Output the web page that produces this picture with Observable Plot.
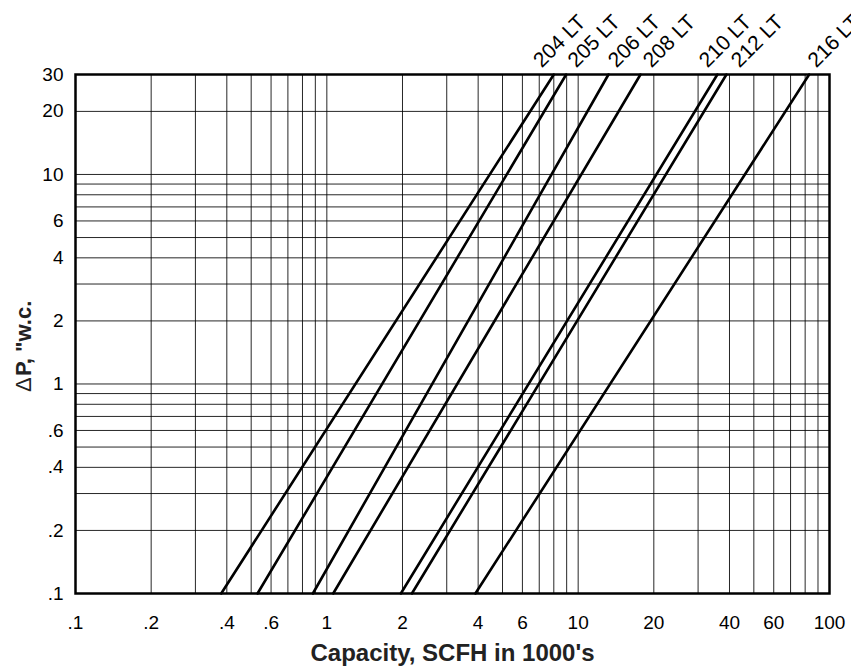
<!DOCTYPE html>
<html>
<head>
<meta charset="utf-8">
<script src="https://cdn.jsdelivr.net/npm/d3@7"></script>
<script src="https://cdn.jsdelivr.net/npm/@observablehq/plot@0.6"></script>
<style>
  html, body { margin: 0; padding: 0; background: #fff; }
</style>
</head>
<body>
<div id="chart"></div>
<script>
// Valve models
const series = ["204 LT", "205 LT", "206 LT", "208 LT", "210 LT", "212 LT", "216 LT"];
// Capacity (1000's SCFH) read at the bottom of the chart (ΔP = 0.1 "w.c.)
const capacityAtLowDP = [0.38, 0.53, 0.88, 1.06, 1.97, 2.18, 3.9];
// Capacity (1000's SCFH) read at the top of the chart (ΔP = 30 "w.c.)
const capacityAtHighDP = [8.0, 8.96, 13.2, 17.7, 35.8, 38.9, 83];
const lowDP = 0.1;
const highDP = 30;

// Axis ticks and grid
const xTicks = [0.1, 0.2, 0.4, 0.6, 1, 2, 4, 6, 10, 20, 40, 60, 100];
const yTicks = [0.1, 0.2, 0.4, 0.6, 1, 2, 4, 6, 10, 20, 30];
const xGrid = [0.2, 0.3, 0.4, 0.5, 0.6, 0.7, 0.8, 0.9, 1, 2, 3, 4, 5, 6, 7, 8, 9, 10, 20, 30, 40, 50, 60, 70, 80, 90];
const yGrid = [0.2, 0.3, 0.4, 0.5, 0.6, 0.7, 0.8, 0.9, 1, 2, 3, 4, 5, 6, 7, 8, 9, 10, 20];

// Label placement offsets (px) relative to each line's top end
const labelDx = [-12, 10, 8, 11, -10, 13, 7];

const rows = series.flatMap((s, i) => [
  {series: s, capacity: capacityAtLowDP[i], dp: lowDP},
  {series: s, capacity: capacityAtHighDP[i], dp: highDP}
]);

const fmt = d => String(d).replace(/^0\./, ".");

const labelMarks = series.map((s, i) =>
  Plot.text([{label: s, capacity: capacityAtHighDP[i], dp: highDP}], {
    x: "capacity", y: "dp", text: "label",
    dx: labelDx[i], dy: -6, rotate: -45,
    textAnchor: "start", lineAnchor: "bottom",
    fontSize: 21, fill: "#000"
  })
);

const chart = Plot.plot({
  width: 851,
  height: 670,
  marginLeft: 75,
  marginRight: 22,
  marginTop: 74,
  marginBottom: 77,
  style: {fontFamily: "'Liberation Sans', Arial, Helvetica, sans-serif", background: "#fff", color: "#000"},
  x: {type: "log", domain: [0.1, 100], axis: null},
  y: {type: "log", domain: [0.1, 30], axis: null},
  marks: [
    Plot.ruleX(xGrid, {stroke: "#000", strokeWidth: 1, strokeOpacity: 0.85}),
    Plot.ruleY(yGrid, {stroke: "#000", strokeWidth: 1, strokeOpacity: 0.85}),
    Plot.text(xTicks, {
      x: d => d, frameAnchor: "bottom", dy: 22, lineAnchor: "top",
      text: fmt, fontSize: 19, fill: "#000"
    }),
    Plot.text(yTicks, {
      y: d => d, frameAnchor: "left", dx: -12, textAnchor: "end", lineAnchor: "middle",
      text: fmt, fontSize: 19, fill: "#000"
    }),
    Plot.line(rows, {x: "capacity", y: "dp", z: "series", stroke: "#000", strokeWidth: 2.6}),
    Plot.frame({stroke: "#000", strokeWidth: 2.5}),
    ...labelMarks,
    Plot.text(["Capacity, SCFH in 1000's"], {
      frameAnchor: "bottom", dy: 60, lineAnchor: "middle",
      fontSize: 24, fontWeight: "bold", fill: "#222"
    }),
    Plot.text(["\u0394"], {
      frameAnchor: "left", dx: -52, dy: 58, rotate: -90,
      textAnchor: "start", lineAnchor: "middle",
      fontSize: 22, fill: "#222"
    }),
    Plot.text(["P, \"w.c."], {
      frameAnchor: "left", dx: -52, dy: 42, rotate: -90,
      textAnchor: "start", lineAnchor: "middle",
      fontSize: 22, fontWeight: "bold", fill: "#222"
    })
  ]
});

document.getElementById("chart").appendChild(chart);
</script>
</body>
</html>
